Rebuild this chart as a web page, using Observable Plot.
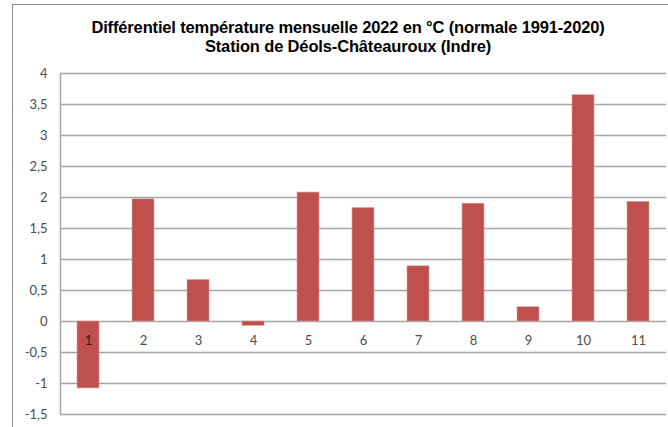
<!DOCTYPE html>
<html>
<head>
<meta charset="utf-8">
<script src="https://cdn.jsdelivr.net/npm/d3@7"></script>
<script src="https://cdn.jsdelivr.net/npm/@observablehq/plot@0.6"></script>
<style>
  html, body { margin: 0; padding: 0; background: #fff; overflow: hidden; }
  #wrap { position: relative; width: 668px; height: 427px; }
  #frame { position: absolute; left: 12px; top: 4px; width: 720px; height: 520px;
           border: 1.5px solid #8f8f8f; box-sizing: border-box; }
  #title { position: absolute; left: 0; top: 18px; width: 696px; text-align: center;
           font-family: "Liberation Sans", Arial, sans-serif; font-weight: bold;
           font-size: 16.5px; line-height: 19px; color: #000; letter-spacing: -0.15px; }
  #chart { position: absolute; left: 0; top: 60px; }
</style>
</head>
<body>
<div id="wrap">
  <div id="frame"></div>
  <div id="title">Différentiel température mensuelle 2022 en °C (normale 1991-2020)<br>Station de Déols-Châteauroux (Indre)</div>
  <div id="chart"></div>
</div>
<script>
const months = [1, 2, 3, 4, 5, 6, 7, 8, 9, 10, 11];
const values = [-1.08, 1.97, 0.67, -0.07, 2.08, 1.83, 0.89, 1.90, 0.23, 3.65, 1.93];
const yTicks = [-1.5, -1, -0.5, 0, 0.5, 1, 1.5, 2, 2.5, 3, 3.5, 4];

const data = months.map((m, i) => ({month: m, value: values[i]}));
const fmt = d => String(d).replace(".", ",");

const chart = Plot.plot({
  width: 668,
  height: 367,
  marginTop: 13,
  marginBottom: 13,
  marginLeft: 60,
  marginRight: 2,
  style: {fontFamily: "Lato, 'Open Sans', sans-serif", fontSize: "13px", color: "#4d4d4d", background: "transparent"},
  x: {type: "band", domain: months, paddingInner: 0.6, paddingOuter: 0.3, axis: null},
  y: {domain: [-1.5, 4], ticks: yTicks, tickFormat: fmt, tickSize: 0, tickPadding: 13, label: null},
  marks: [
    Plot.gridY(yTicks, {stroke: "#a6a6a6", strokeOpacity: 1, strokeWidth: 1.5}),
    Plot.frame({anchor: "left", stroke: "#a6a6a6", strokeWidth: 1.5}),
    Plot.barY(data, {x: "month", y: "value", fill: "#c0504d", stroke: "#d9a09e", strokeWidth: 0.6}),
    Plot.text(data, {x: "month", y: () => 0, text: d => String(d.month), dy: 19, fill: d => d.value < -0.5 ? "#222" : "#4d4d4d", fontSize: 13})
  ]
});
document.getElementById("chart").appendChild(chart);
</script>
</body>
</html>
